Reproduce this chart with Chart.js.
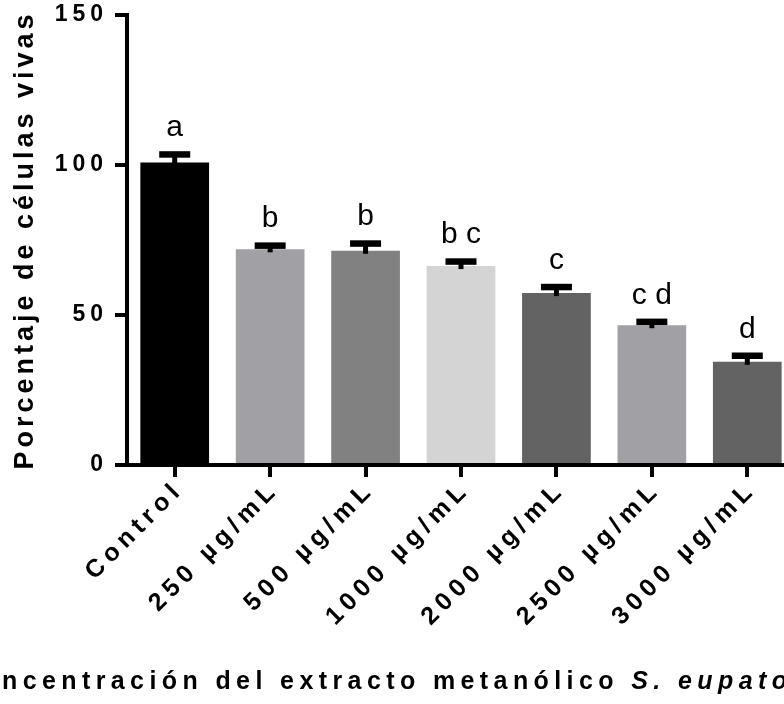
<!DOCTYPE html>
<html>
<head>
<meta charset="utf-8">
<script src="https://cdn.jsdelivr.net/npm/chart.js@4"></script>
<style>
  html, body { margin: 0; padding: 0; overflow: hidden; background: #fff; }
  #wrap { position: relative; width: 800px; height: 704px; }
</style>
</head>
<body>
<div id="wrap"><canvas id="chart" width="800" height="704"></canvas></div>
<script>
// Viability of cells after exposure to the methanolic extract
const categories = ['Control', '250 µg/mL', '500 µg/mL', '1000 µg/mL', '2000 µg/mL', '2500 µg/mL', '3000 µg/mL'];
const viability = [100.8, 71.9, 71.4, 66.3, 57.3, 46.6, 34.4];   // mean % live cells
const sem = [2.8, 1.3, 2.5, 1.6, 2.1, 1.2, 2.1];                   // upper error
const groups = ['a', 'b', 'b', 'b c', 'c', 'c d', 'd'];            // significance letters
const barColors = ['#000000', '#a1a1a5', '#818181', '#d4d4d4', '#636363', '#a1a1a5', '#636363'];
const yTicks = [0, 50, 100, 150];
const yTitle = 'Porcentaje de células vivas';
const xTitleMain = 'Concentración del extracto metanólico ';
const xTitleSpecies = 'S. eupatorium';

const FONT = "'Liberation Sans', Arial, sans-serif";
Chart.defaults.font.family = FONT;
Chart.defaults.color = '#000';

// wrap a scale so its labels and title are drawn with tracking
function tracked(labelSpacing, titleSpacing) {
  return {
    beforeCalculateLabelRotation(scale) { scale.ctx.letterSpacing = labelSpacing; },
    afterUpdate(scale) {
      scale.ctx.letterSpacing = '0px';
      if (scale._tracked) return;
      scale._tracked = true;
      const drawLabels = scale.drawLabels, drawTitle = scale.drawTitle;
      scale.drawLabels = function (area) {
        this.ctx.save(); this.ctx.letterSpacing = labelSpacing;
        drawLabels.call(this, area); this.ctx.restore();
      };
      scale.drawTitle = function () {
        this.ctx.save(); this.ctx.letterSpacing = titleSpacing;
        drawTitle.call(this); this.ctx.restore();
      };
    }
  };
}

// upper error bars and group letters above each bar
const errorBars = {
  id: 'errorBars',
  afterDatasetsDraw(chart) {
    const { ctx } = chart;
    const y = chart.scales.y;
    const meta = chart.getDatasetMeta(0);
    ctx.save();
    ctx.fillStyle = '#000';
    ctx.letterSpacing = '0px';
    ctx.font = '30px ' + FONT;
    ctx.textAlign = 'center';
    ctx.textBaseline = 'alphabetic';
    meta.data.forEach((bar, i) => {
      const top = y.getPixelForValue(viability[i]);
      const capY = y.getPixelForValue(viability[i] + sem[i]);
      ctx.fillRect(bar.x - 2.5, capY, 5, top - capY + 3);
      ctx.fillRect(bar.x - 15.5, capY - 3, 31, 6.5);
      ctx.fillText(groups[i], bar.x, capY - 3 - 15);
    });
    ctx.restore();
  }
};

// x-axis title with the species name in italics
const xAxisTitle = {
  id: 'xAxisTitle',
  afterDraw(chart) {
    const { ctx } = chart;
    ctx.save();
    ctx.letterSpacing = '5.4px';
    ctx.fillStyle = '#000';
    ctx.textAlign = 'left';
    ctx.textBaseline = 'alphabetic';
    const f1 = 'bold 25px ' + FONT, f2 = 'italic bold 25px ' + FONT;
    ctx.font = f1; const w1 = ctx.measureText(xTitleMain).width;
    ctx.font = f2; const w2 = ctx.measureText(xTitleSpecies).width;
    const cx = 413, baseline = 689;
    const x0 = cx - (w1 + w2) / 2;
    ctx.font = f1; ctx.fillText(xTitleMain, x0, baseline);
    ctx.font = f2; ctx.fillText(xTitleSpecies, x0 + w1, baseline);
    ctx.restore();
  }
};

new Chart(document.getElementById('chart'), {
  type: 'bar',
  data: {
    labels: categories,
    datasets: [{
      data: viability,
      backgroundColor: barColors,
      borderWidth: 0,
      barPercentage: 0.72,
      categoryPercentage: 1
    }]
  },
  options: {
    responsive: false,
    animation: false,
    layout: { padding: { top: 15, right: 5, left: 0, bottom: 0 } },
    plugins: { legend: { display: false }, tooltip: { enabled: false } },
    scales: {
      x: {
        offset: true,
        grid: { offset: false, drawOnChartArea: false, drawTicks: true, tickLength: 12, lineWidth: 4, color: '#000' },
        border: { display: true, width: 4, color: '#000', z: 1 },
        ticks: { autoSkip: false, minRotation: 45, maxRotation: 45, padding: -2, labelOffset: 5, color: '#000',
                 font: { size: 25, weight: 'bold' } },
        ...tracked('5.5px', '6px'),
        afterFit(scale) { scale.height = 239; scale.paddingLeft = 0; scale.paddingRight = 0; }
      },
      y: {
        min: 0, max: 150,
        afterBuildTicks(scale) { scale.ticks = yTicks.map(v => ({ value: v })); },
        grid: { drawOnChartArea: false, drawTicks: true, tickLength: 12, lineWidth: 4, color: '#000' },
        border: { display: true, width: 4, color: '#000', z: 1 },
        ticks: { padding: 7, color: '#000', font: { size: 23, weight: 'bold' } },
        title: { display: true, text: yTitle, color: '#000', font: { size: 27, weight: 'bold' },
                 padding: { top: 9, bottom: 0 } },
        ...tracked('5px', '4px'),
        afterFit(scale) { scale.width = 127; scale.paddingTop = 0; scale.paddingBottom = 0; }
      }
    }
  },
  plugins: [errorBars, xAxisTitle]
});
</script>
</body>
</html>
